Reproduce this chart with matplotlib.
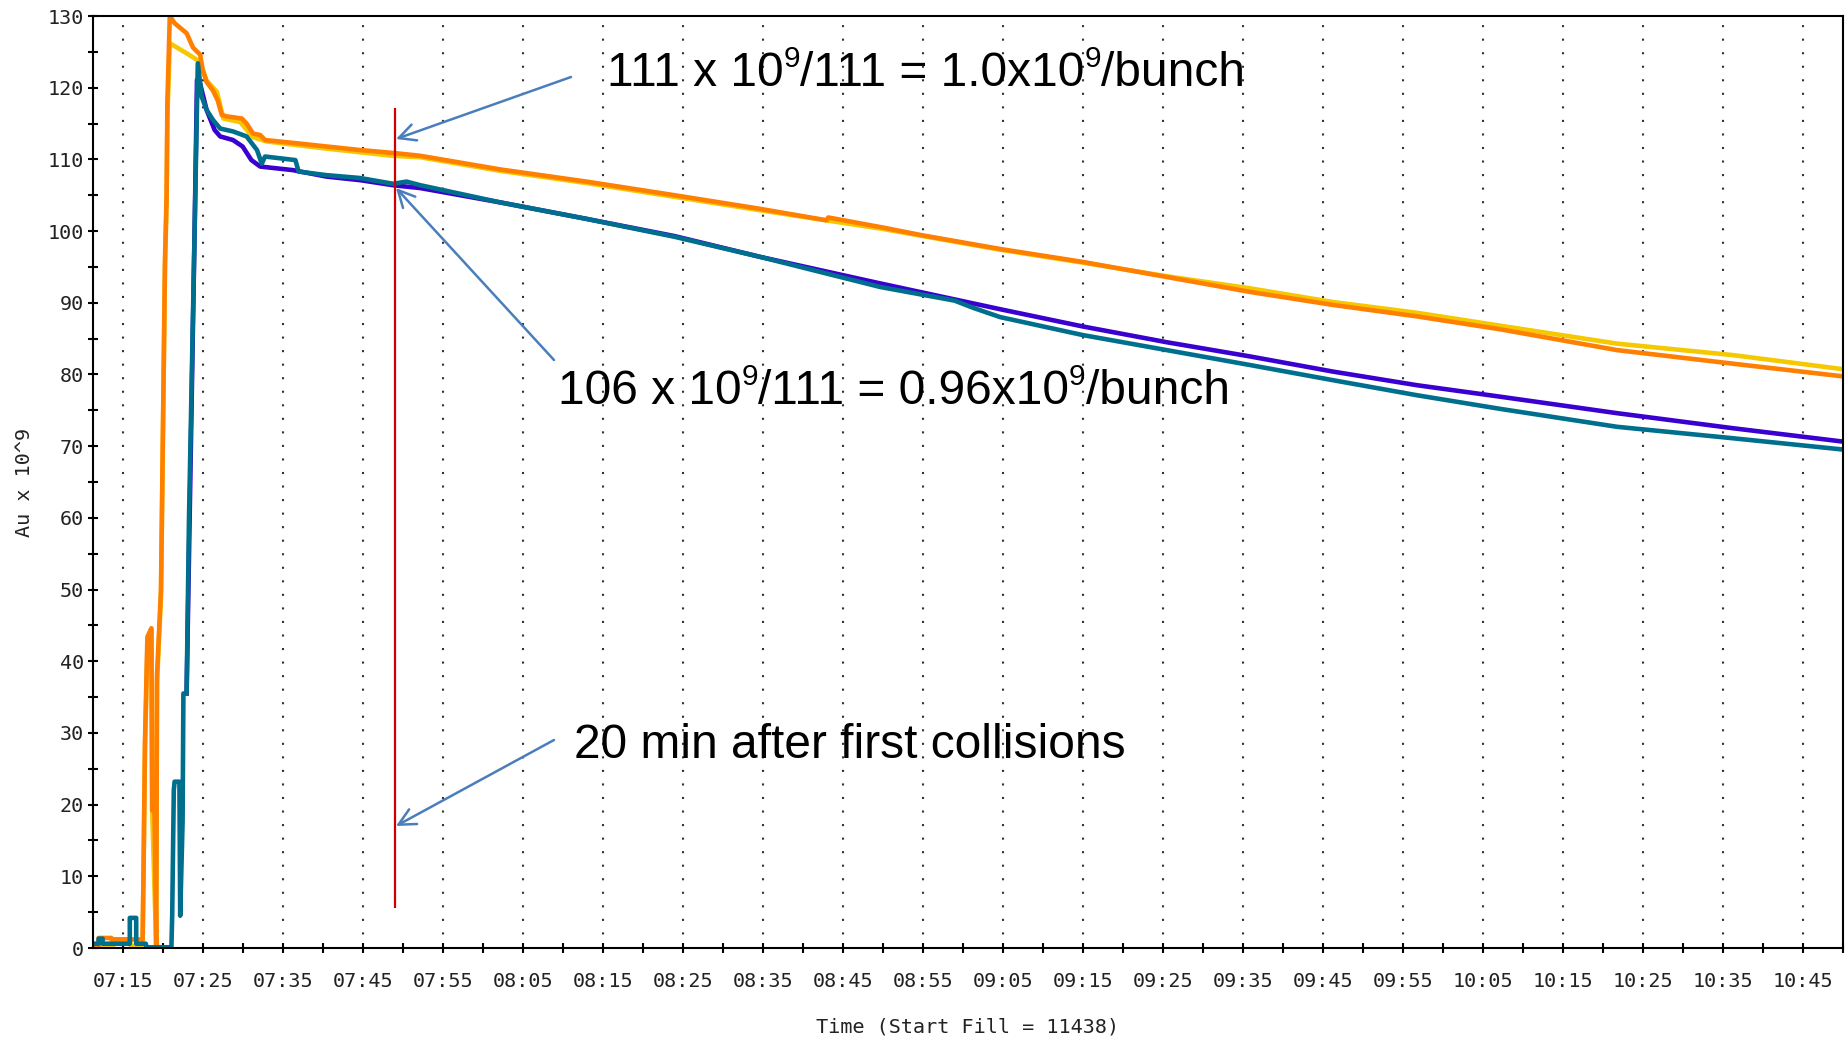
import matplotlib
matplotlib.use("Agg")
import matplotlib.pyplot as plt
from matplotlib.ticker import FixedLocator, MultipleLocator

# Bunch intensity per ring/bunch type, time in minutes after 07:15
t_orange = [-3.7, -3.0, -3.0, -1.4, -1.4, 2.5, 2.6, 2.8, 3.1, 3.6, 3.7, 4.0, 4.2, 4.3, 4.8, 5.3, 5.5,
            5.6, 5.9, 6.5, 8.0, 8.8, 9.7, 10.0, 10.5, 11.3, 11.9, 12.4, 13.0, 14.9, 15.5, 16.3, 17.2,
            17.8, 21.3, 25.5, 29.7, 33.8, 37.2, 47.2, 58.0, 69.0, 79.7, 88.0, 88.2, 95.0, 100.0, 109.7,
            120.0, 130.5, 141.0, 151.3, 161.8, 172.2, 186.8, 201.3, 215.3]
v_orange = [0.2, 0.2, 1.4, 1.4, 1.2, 1.2, 9.2, 28.8, 43.4, 44.6, 19.2, 19.0, 0.3, 38.0, 50.0, 96.0, 105.0,
            118.0, 130.0, 129.0, 127.6, 125.6, 124.6, 122.5, 120.8, 119.6, 118.2, 116.2, 116.0, 115.7,
            115.0, 113.6, 113.4, 112.7, 112.3, 111.8, 111.3, 110.9, 110.5, 108.6, 106.9, 105.0, 103.1,
            101.5, 101.9, 100.5, 99.4, 97.5, 95.7, 93.6, 91.5, 89.7, 88.1, 86.3, 83.4, 81.5, 79.7]

t_yellow = [-3.7, -1.2, -1.2, 0.9, 1.0, 2.5, 2.6, 2.8, 3.1, 3.6, 3.7, 4.2, 4.3, 4.8, 5.3, 5.5, 5.6, 5.9,
            8.0, 9.7, 10.5, 11.8, 12.6, 14.7, 16.3, 18.0, 25.5, 33.8, 37.2, 47.2, 58.0, 79.7, 95.0,
            109.7, 120.0, 130.5, 141.0, 151.3, 161.8, 172.2, 186.8, 201.3, 215.3]
v_yellow = [0.2, 0.2, 1.2, 1.2, 0.3, 0.3, 9.0, 28.0, 42.0, 44.0, 19.0, 0.3, 37.0, 49.0, 95.0, 104.0,
            116.0, 126.2, 124.8, 123.6, 121.0, 119.4, 115.7, 115.2, 113.1, 112.5, 111.5, 110.5, 110.3,
            108.4, 106.7, 102.9, 100.3, 97.4, 95.6, 93.7, 92.0, 90.1, 88.6, 86.8, 84.3, 82.7, 80.7]

t_purple = [8.0, 9.0, 9.3, 9.7, 10.5, 11.5, 12.2, 13.8, 15.0, 16.1, 17.2, 21.3, 25.5,
            29.7, 33.8, 37.2, 47.2, 58.0, 69.0, 79.7, 94.7, 109.7, 120.0, 130.5, 141.0, 151.3, 161.8,
            172.2, 186.8, 201.3, 215.3]
v_purple = [35.5, 100.0, 121.1, 120.5, 116.9, 114.1, 113.2, 112.7, 111.8, 109.9, 109.0,
            108.5, 107.6, 107.1, 106.4, 106.0, 104.0, 101.7, 99.3, 96.4, 92.7, 89.1, 86.7, 84.5, 82.5,
            80.4, 78.5, 76.9, 74.6, 72.5, 70.6]

t_teal = [-3.7, -3.0, -3.0, -2.5, -2.5, 0.9, 0.9, 1.7, 1.7, 2.9, 3.0, 6.1, 6.2, 6.4, 6.5, 7.1, 7.2, 7.5,
          7.6, 8.0, 8.3, 9.0, 9.4, 9.9, 10.5, 11.3, 12.2, 13.8, 15.5, 16.8, 17.4, 17.8, 21.6, 22.0, 25.5,
          29.7, 33.8, 35.5, 37.2, 47.2, 58.0, 69.0, 79.7, 94.7, 104.0, 106.3, 109.7, 120.0, 130.5, 141.0,
          151.3, 161.8, 172.2, 186.8, 201.3, 215.3]
v_teal = [0.6, 0.6, 1.3, 1.3, 0.6, 0.6, 4.2, 4.2, 0.6, 0.6, 0.1, 0.1, 4.6, 22.0, 23.2, 23.2, 4.5, 17.6,
          35.5, 35.5, 60.0, 100.0, 123.4, 118.7, 116.9, 115.5, 114.3, 113.9, 113.2, 111.3, 109.4, 110.4,
          109.9, 108.3, 107.8, 107.4, 106.6, 106.9, 106.4, 104.0, 101.7, 99.2, 96.4, 92.2, 90.3, 89.3,
          88.0, 85.5, 83.4, 81.3, 79.2, 77.1, 75.2, 72.7, 71.1, 69.5]

# 20 min after first collisions
collision_mark = 34.05
collision_span = [5.6, 117.2]

time_labels = ['07:15', '07:25', '07:35', '07:45', '07:55', '08:05', '08:15', '08:25', '08:35', '08:45',
               '08:55', '09:05', '09:15', '09:25', '09:35', '09:45', '09:55', '10:05', '10:15', '10:25',
               '10:35', '10:45']


def minutes(label):
    h, m = label.split(':')
    return int(h) * 60 + int(m)


base = minutes('07:15')
W, H = 1849, 1040

fig = plt.figure(figsize=(W / 100, H / 100), dpi=100)
ax = fig.add_axes([93 / W, 1 - 948 / H, (1843 - 93) / W, (948 - 16) / H])

lw = 3.3
ax.plot([base + t for t in t_yellow], v_yellow, color='#F5C800', lw=lw)
ax.plot([base + t for t in t_orange], v_orange, color='#FF7F00', lw=lw)
ax.plot([base + t for t in t_purple], v_purple, color='#3A00D0', lw=lw)
ax.plot([base + t for t in t_teal], v_teal, color='#006F8E', lw=lw)

ax.vlines(base + collision_mark, collision_span[0], collision_span[1], color='#CC0000', lw=1.6, zorder=5)

ax.set_xlim(base - 3.7, base + 215.05)
ax.set_ylim(0, 130)

major_x = [minutes(s) for s in time_labels]
ax.xaxis.set_major_locator(FixedLocator(major_x))
ax.set_xticklabels(time_labels)
ax.xaxis.set_minor_locator(FixedLocator([m + 5 for m in major_x]))
ax.yaxis.set_major_locator(MultipleLocator(10))
ax.yaxis.set_minor_locator(MultipleLocator(5))

mono = 'DejaVu Sans Mono'
ax.tick_params(which='both', direction='inout', length=7, width=1.5, color='black')
ax.tick_params(axis='x', pad=14, labelsize=14.5, labelcolor='#222222')
ax.tick_params(axis='y', pad=3, labelsize=14.5, labelcolor='#222222')
for lab in ax.get_xticklabels() + ax.get_yticklabels():
    lab.set_family(mono)

for sp in ax.spines.values():
    sp.set_linewidth(1.5)
    sp.set_color('black')

ax.grid(axis='x', which='major', color='#333333', lw=1.5, linestyle=(0, (1, 5.5)))
ax.set_axisbelow(True)

ax.set_xlabel('Time (Start Fill = 11438)', family=mono, fontsize=14.5, color='#222222', labelpad=19)
ax.set_ylabel('Au x 10^9', family=mono, fontsize=14.5, color='#222222', labelpad=9.5)


def px(x, y):
    return (x / W, 1 - y / H)


arrow = dict(arrowstyle='->', color='#4A7EBB', lw=1.8, mutation_scale=30, shrinkA=0, shrinkB=0)
for tail, tip in [((571, 77), (396, 139)), ((554, 360), (396, 188)), ((554, 740), (396, 826))]:
    ax.annotate('', xy=px(*tip), xycoords='figure fraction',
                xytext=px(*tail), textcoords='figure fraction', arrowprops=arrow)


def note(x, y, parts, size=34.5):
    # write text piece by piece, "^" marks a superscript piece
    renderer = fig.canvas.get_renderer()
    cur = x
    for piece in parts:
        sup = piece.startswith('^')
        s = piece[1:] if sup else piece
        fs = size * 0.62 if sup else size
        rise = size * 0.40 * 100 / 72 if sup else 0
        t = fig.text(*px(cur, y - rise), s, family='Liberation Sans', fontsize=fs,
                     ha='left', va='baseline', color='black')
        cur += t.get_window_extent(renderer).width


note(607, 86, ['111 x 10', '^9', '/111 = 1.0x10', '^9', '/bunch'])
note(558, 404, ['106 x 10', '^9', '/111 = 0.96x10', '^9', '/bunch'])
note(574, 758, ['20 min after first collisions'])

fig.savefig('out.png', dpi=100, facecolor='white')
